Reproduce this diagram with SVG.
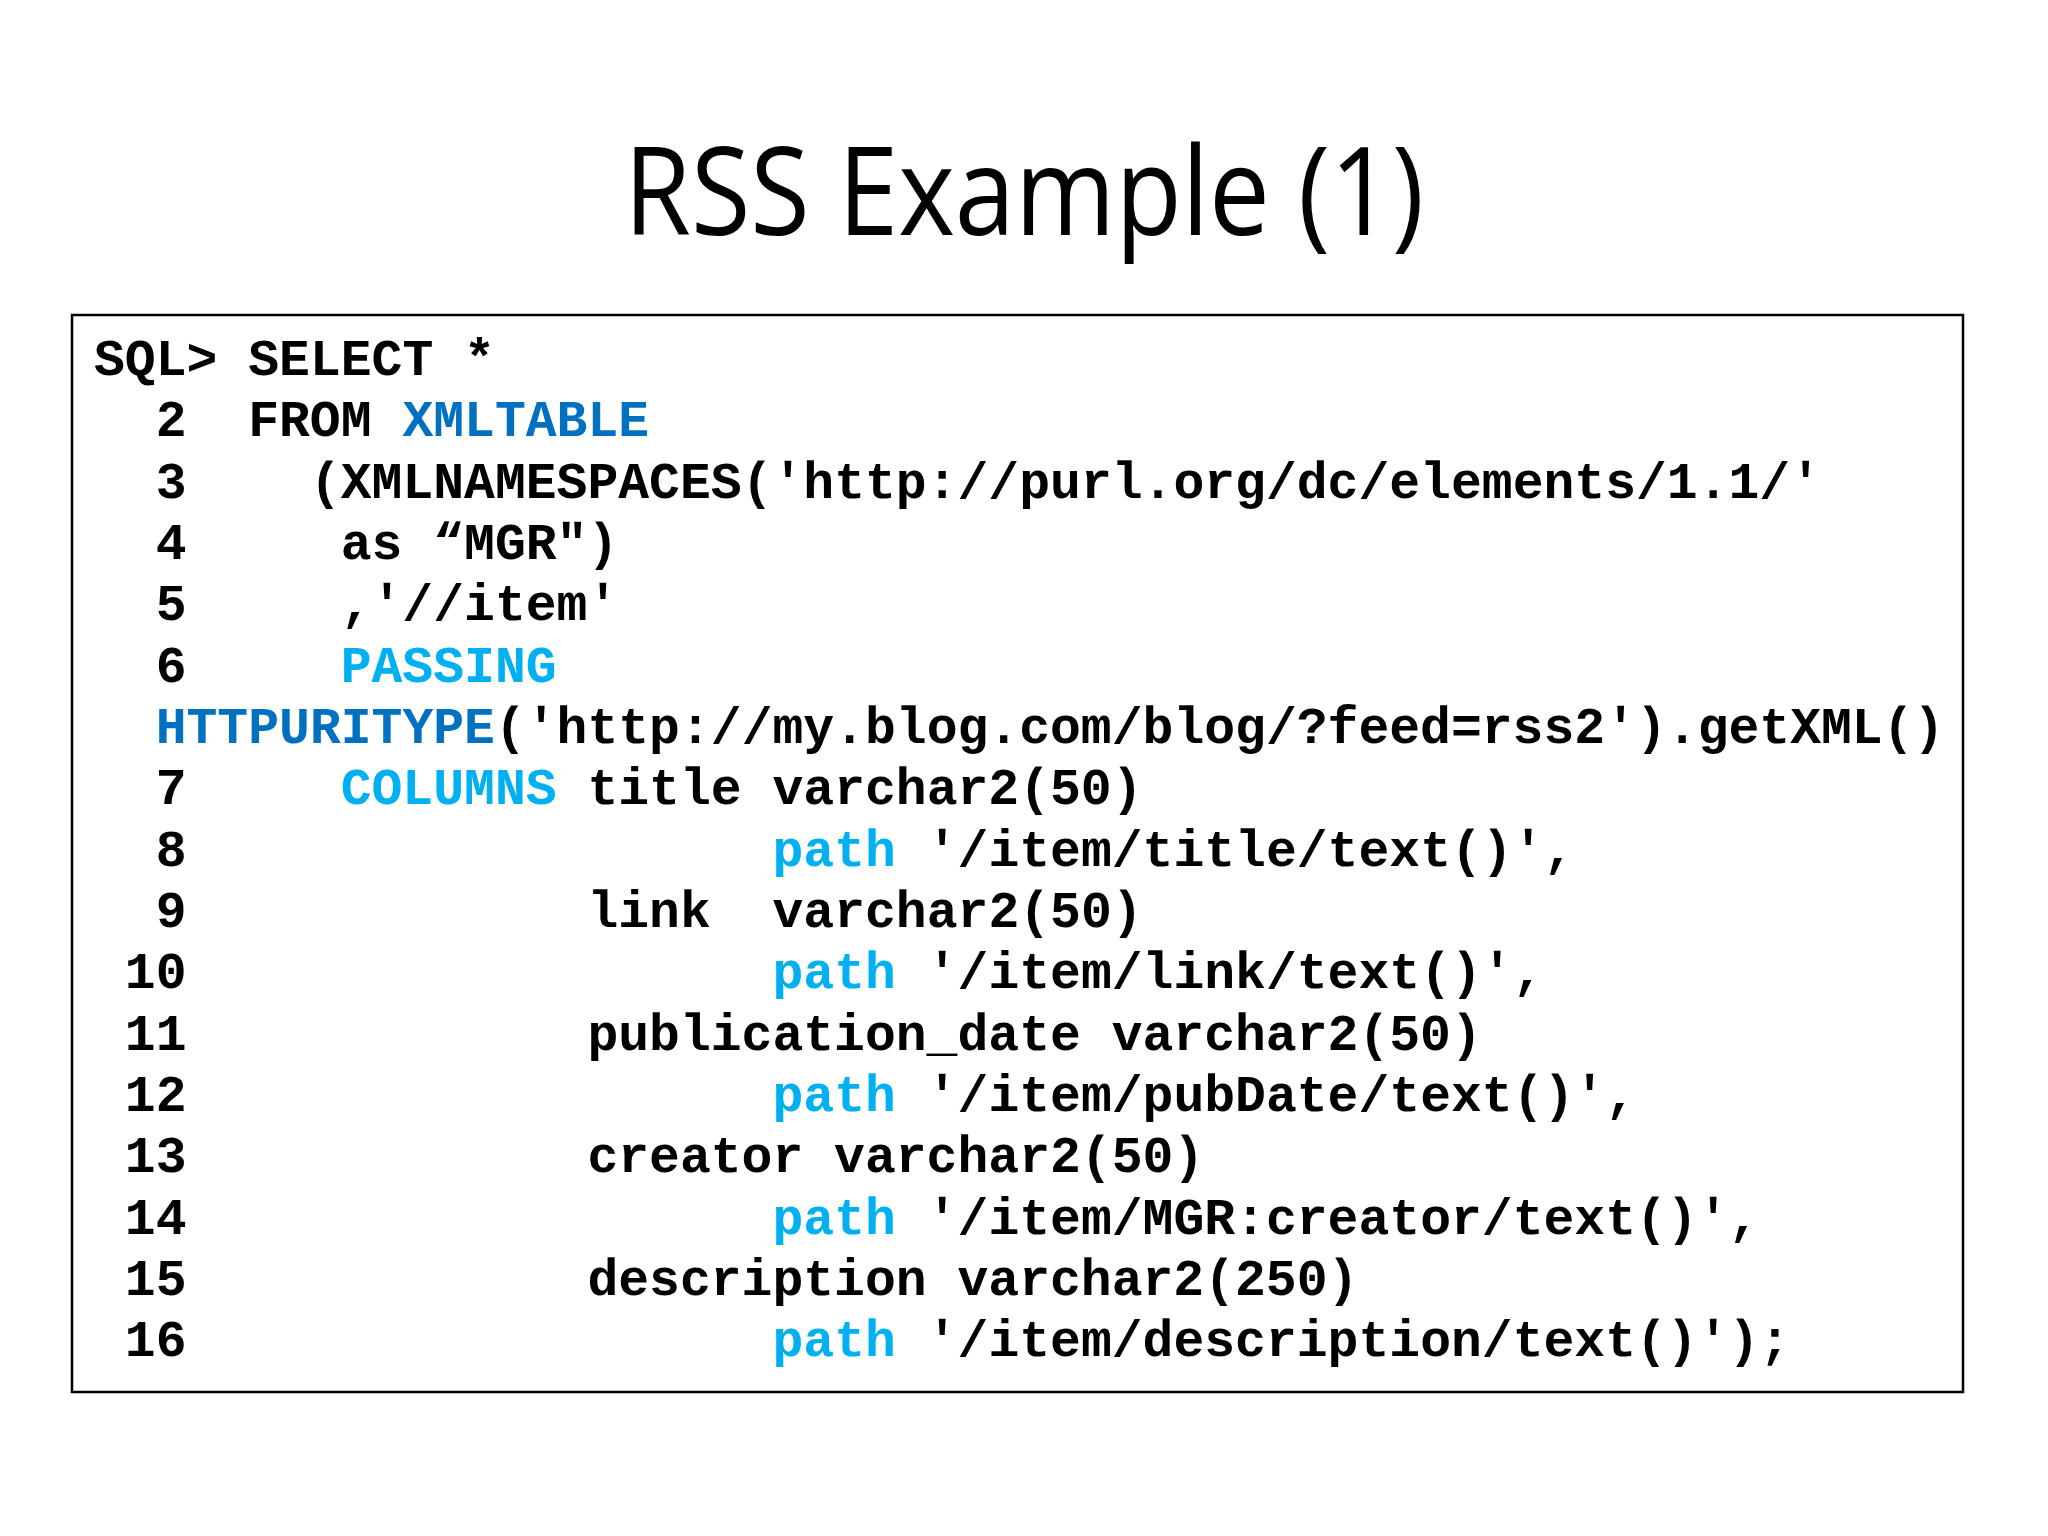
<svg xmlns="http://www.w3.org/2000/svg" width="2048" height="1536" viewBox="0 0 2048 1536">
<style>
.code text{font-family:"Liberation Mono","Courier New",monospace;font-weight:bold;font-size:51.4px;fill:#000}
.code .k1{fill:#0070C0}.code .k2{fill:#00B0F0}
</style>
<rect width="2048" height="1536" fill="#fff"/>
<text x="1024" y="235" text-anchor="middle" font-family="Open Sans, Liberation Sans, sans-serif" font-size="122" textLength="800" lengthAdjust="spacingAndGlyphs">RSS Example (1)</text>
<g id="box"><rect x="72" y="315" width="1891" height="1077" fill="none" stroke="#000" stroke-width="2.5"/></g>
<g id="code" class="code">
<text x="94" y="375">SQL&gt; SELECT *</text>
<text x="155.7" y="436">2</text><text x="248.2" y="436">FROM <tspan class="k1">XMLTABLE</tspan></text>
<text x="155.7" y="498">3</text><text x="309.9" y="498">(XMLNAMESPACES('http://purl.org/dc/elements/1.1/'</text>
<text x="155.7" y="559">4</text><text x="340.7" y="559">as “MGR")</text>
<text x="155.7" y="620">5</text><text x="340.7" y="620">,'//item'</text>
<text x="155.7" y="682">6</text><text x="340.7" y="682" class="k2">PASSING</text>
<text x="155.7" y="743"><tspan class="k1">HTTPURITYPE</tspan>('http://my.blog.com/blog/?feed=rss2').getXML()</text>
<text x="155.7" y="804">7</text><text x="340.7" y="804"><tspan class="k2">COLUMNS</tspan> title varchar2(50)</text>
<text x="155.7" y="866">8</text><text x="772.5" y="866"><tspan class="k2">path</tspan> '/item/title/text()',</text>
<text x="155.7" y="927">9</text><text x="587.4" y="927">link</text><text x="772.5" y="927">varchar2(50)</text>
<text x="124.8" y="988">10</text><text x="772.5" y="988"><tspan class="k2">path</tspan> '/item/link/text()',</text>
<text x="124.8" y="1050">11</text><text x="587.4" y="1050">publication_date varchar2(50)</text>
<text x="124.8" y="1111">12</text><text x="772.5" y="1111"><tspan class="k2">path</tspan> '/item/pubDate/text()',</text>
<text x="124.8" y="1172">13</text><text x="587.4" y="1172">creator varchar2(50)</text>
<text x="124.8" y="1234">14</text><text x="772.5" y="1234"><tspan class="k2">path</tspan> '/item/MGR:creator/text()',</text>
<text x="124.8" y="1295">15</text><text x="587.4" y="1295">description varchar2(250)</text>
<text x="124.8" y="1356">16</text><text x="772.5" y="1356"><tspan class="k2">path</tspan> '/item/description/text()');</text>
</g>
</svg>
